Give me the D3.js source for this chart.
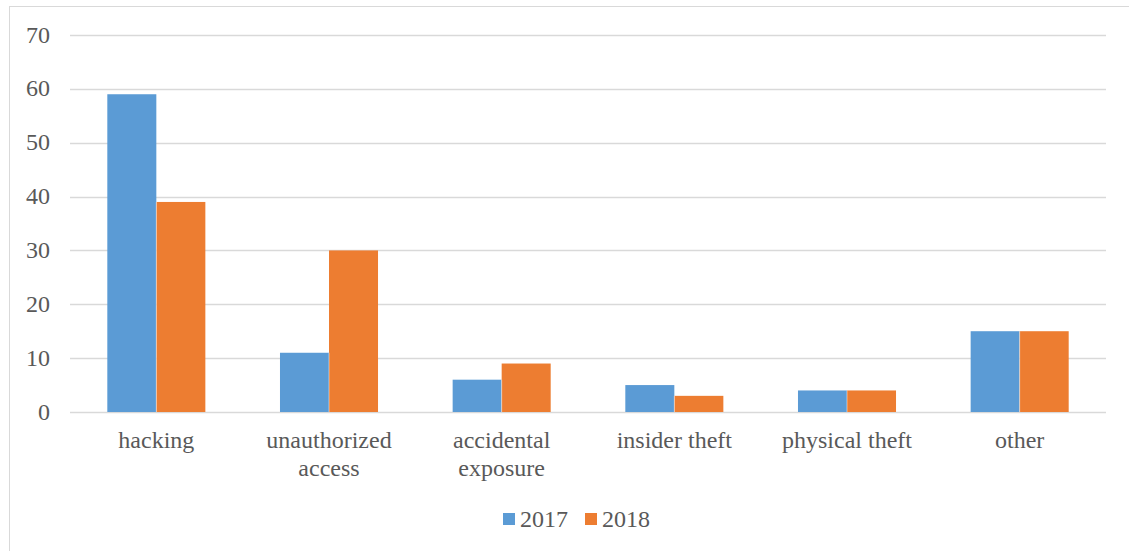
<!DOCTYPE html>
<html><head><meta charset="utf-8">
<script src="https://cdn.jsdelivr.net/npm/d3@7"></script>
<style>body{margin:0;background:#fff}svg{display:block}</style>
</head><body>
<svg id="c" width="1129" height="551"></svg>
<script>
const categories = [["hacking"], ["unauthorized","access"], ["accidental","exposure"], ["insider theft"], ["physical theft"], ["other"]];
const seriesNames = ["2017", "2018"];
const values2017 = [59, 11, 6, 5, 4, 15];
const values2018 = [39, 30, 9, 3, 4, 15];
const yTicks = [0, 10, 20, 30, 40, 50, 60, 70];
const colors = ["#5B9BD5", "#ED7D31"];

(function(){
const svg = d3.select("#c");
const font = "'Liberation Serif','Times New Roman',serif";
const txt = "#595959";
const fs = 24;

svg.append("rect").attr("x", 9.5).attr("y", 6.5).attr("width", 1140).attr("height", 560)
  .attr("fill", "none").attr("stroke", "#D9D9D9").attr("stroke-width", 1);

const pLeft = 70, pRight = 1106, pTop = 35, pBottom = 412;
const x0 = d3.scaleBand().domain(d3.range(categories.length)).range([pLeft, pRight]).paddingInner(0.4322).paddingOuter(0.2161);
const x1 = d3.scaleBand().domain(seriesNames).range([0, x0.bandwidth()]);
const y = d3.scaleLinear().domain([0, 70]).range([pBottom, pTop]);

const g = svg.append("g");
g.selectAll("line.grid").data(yTicks).join("line")
  .attr("x1", pLeft).attr("x2", pRight)
  .attr("y1", d => Math.round(y(d)) + 0.5).attr("y2", d => Math.round(y(d)) + 0.5)
  .attr("stroke", "#D9D9D9").attr("stroke-width", 1.3);

g.selectAll("text.yt").data(yTicks).join("text")
  .attr("x", 50).attr("y", d => y(d) + 7.5)
  .attr("text-anchor", "end").attr("font-family", font).attr("font-size", fs).attr("fill", txt)
  .text(d => d);

const series = [values2017, values2018];
series.forEach((vals, si) => {
  g.selectAll("rect.s" + si).data(vals).join("rect")
    .attr("class", "s" + si)
    .attr("x", (d, i) => x0(i) + x1(seriesNames[si]))
    .attr("y", d => y(d))
    .attr("width", x1.bandwidth())
    .attr("height", d => y(0) - y(d))
    .attr("fill", colors[si]);
});
g.selectAll("line.sep").data(categories).join("line")
  .attr("class", "sep")
  .attr("x1", (d, i) => x0(i) + x1.bandwidth()).attr("x2", (d, i) => x0(i) + x1.bandwidth())
  .attr("y1", (d, i) => y(Math.min(values2017[i], values2018[i]))).attr("y2", pBottom)
  .attr("stroke", "#fff").attr("stroke-width", 0.8).attr("opacity", 0.6);

const xl = g.selectAll("text.xl").data(categories).join("text")
  .attr("class", "xl")
  .attr("text-anchor", "middle").attr("font-family", font).attr("font-size", fs).attr("fill", txt);
xl.each(function(lines, i) {
  const t = d3.select(this);
  lines.forEach((l, li) => {
    t.append("tspan").attr("x", x0(i) + x0.bandwidth() / 2).attr("y", 448 + li * 28).text(l);
  });
});

const legX = [503, 585];
seriesNames.forEach((s, i) => {
  svg.append("rect").attr("x", legX[i]).attr("y", 513).attr("width", 12).attr("height", 12).attr("fill", colors[i]);
  svg.append("text").attr("x", legX[i] + 17).attr("y", 527).attr("font-family", font).attr("font-size", fs).attr("fill", txt).text(s);
});
})();
</script>
</body></html>
